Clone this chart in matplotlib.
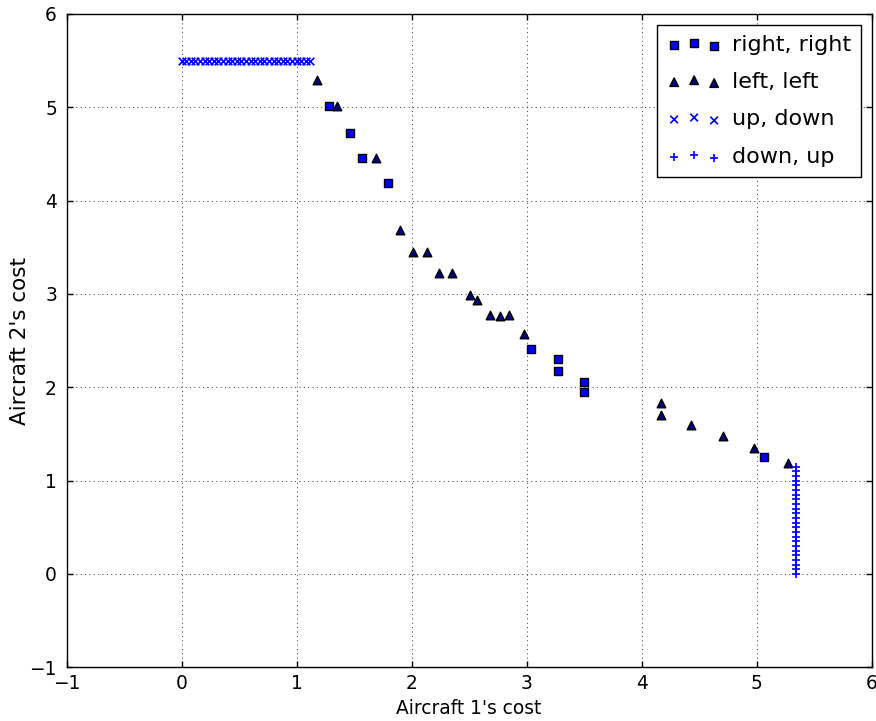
import matplotlib
matplotlib.use('Agg')
import matplotlib.pyplot as plt

# right, right
rr_x = [1.28, 1.46, 1.57, 1.79, 3.04, 3.27, 3.27, 3.50, 3.50, 5.06]
rr_y = [5.01, 4.73, 4.46, 4.19, 2.41, 2.30, 2.18, 2.06, 1.95, 1.25]

# left, left
ll_x = [1.18, 1.35, 1.69, 1.90, 2.01, 2.13, 2.24, 2.35, 2.51, 2.57,
        2.68, 2.77, 2.85, 2.98, 4.17, 4.17, 4.43, 4.71, 4.98, 5.27]
ll_y = [5.29, 5.01, 4.46, 3.69, 3.45, 3.45, 3.22, 3.22, 2.99, 2.94,
        2.77, 2.76, 2.78, 2.57, 1.83, 1.70, 1.60, 1.48, 1.35, 1.19]

# up, down
ud_x = [0.00, 0.04, 0.08, 0.12, 0.16, 0.20, 0.24, 0.28, 0.32, 0.36,
        0.40, 0.44, 0.48, 0.52, 0.56, 0.60, 0.64, 0.68, 0.72, 0.76,
        0.80, 0.84, 0.88, 0.92, 0.96, 1.00, 1.04, 1.08, 1.12]
ud_y = [5.5] * len(ud_x)

# down, up
du_y = [0.00, 0.05, 0.10, 0.15, 0.20, 0.25, 0.30, 0.35, 0.40, 0.45,
        0.50, 0.55, 0.60, 0.65, 0.70, 0.75, 0.80, 0.85, 0.90, 0.95,
        1.00, 1.05, 1.10, 1.15]
du_x = [5.34] * len(du_y)

plt.rcParams['font.family'] = ['DejaVu Sans']
plt.rcParams['font.size'] = 13.4

fig = plt.figure(figsize=(8.76, 7.21), dpi=100)
ax = fig.add_axes([0.0761, 0.0745, 0.919, 0.9061])

ax.scatter(rr_x, rr_y, s=38, c='b', marker='s', edgecolors='k', linewidths=1, label='right, right', zorder=3)
ax.scatter(ll_x, ll_y, s=38, c='#000080', marker='^', edgecolors='k', linewidths=1, label='left, left', zorder=3)
ax.scatter(ud_x, ud_y, s=30, c='b', marker='x', linewidths=1.2, label='up, down', zorder=3)
ax.scatter(du_x, du_y, s=30, c='b', marker='+', linewidths=1.2, label='down, up', zorder=3)

ax.set_xlim(-1, 6)
ax.set_ylim(-1, 6)
ax.set_xlabel("Aircraft 1's cost", labelpad=4)
ax.set_ylabel("Aircraft 2's cost", fontsize=15.5)
ax.yaxis.set_label_coords(-0.045, 0.5)
ax.grid(True, color='0.2', linestyle=(0, (1, 3.5)), linewidth=0.7)
ax.tick_params(direction='in', top=True, right=True, length=4, width=1)
ax.tick_params(axis='x', pad=5)
ax.tick_params(axis='y', pad=7)
for sp in ax.spines.values():
    sp.set_linewidth(1.0)

leg = ax.legend(loc='upper right', scatterpoints=3, scatteryoffsets=[0.375, 0.5, 0.3125],
                fontsize=16, fancybox=False, framealpha=1, edgecolor='k',
                borderaxespad=0.48, handlelength=2.4, handletextpad=0.5,
                labelspacing=0.78, borderpad=0.45)
leg.get_frame().set_linewidth(1.0)

fig.savefig('out.png', dpi=100, facecolor='white')
